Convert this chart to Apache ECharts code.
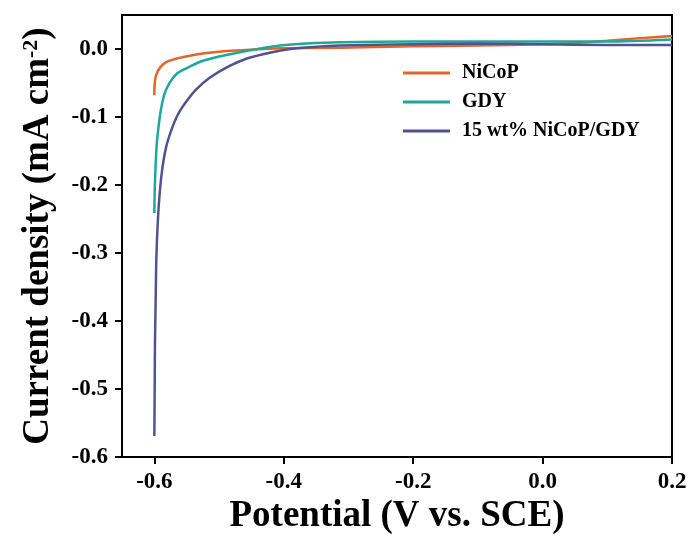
<!DOCTYPE html>
<html>
<head>
<meta charset="utf-8">
<script src="https://cdn.jsdelivr.net/npm/echarts@6/dist/echarts.min.js"></script>
<style>html,body{margin:0;padding:0;background:#fff;}#c{width:694px;height:540px;}</style>
</head>
<body>
<div id="c"></div>
<script>
// Series names
var seriesNames = ['NiCoP', 'GDY', '15 wt% NiCoP/GDY'];
// Tick labels
var xTicks = [-0.6, -0.4, -0.2, 0.0, 0.2];
var yTicks = [-0.6, -0.5, -0.4, -0.3, -0.2, -0.1, 0.0];
// NiCoP: potential (V) and current density (mA cm-2)
var nicopV = [-0.600, -0.5995, -0.5975, -0.591, -0.581, -0.565, -0.545, -0.519, -0.488, -0.452, -0.406, -0.313, -0.2, -0.1, 0.0, 0.05, 0.1, 0.15, 0.2];
var nicopJ = [-0.068, -0.052, -0.039, -0.027, -0.019, -0.014, -0.010, -0.006, -0.003, -0.001, 0.001, 0.002, 0.004, 0.005, 0.007, 0.009, 0.012, 0.016, 0.019];
// GDY
var gdyV = [-0.600, -0.5995, -0.598, -0.596, -0.593, -0.589, -0.584, -0.576, -0.565, -0.550, -0.527, -0.500, -0.470, -0.440, -0.406, -0.365, -0.313, -0.2, -0.1, 0.0, 0.1, 0.2];
var gdyJ = [-0.241, -0.209, -0.170, -0.136, -0.110, -0.085, -0.065, -0.049, -0.036, -0.028, -0.018, -0.011, -0.005, 0.000, 0.005, 0.008, 0.010, 0.011, 0.011, 0.011, 0.011, 0.014];
// 15 wt% NiCoP/GDY
var compV = [-0.600, -0.5995, -0.599, -0.598, -0.597, -0.595, -0.592, -0.588, -0.582, -0.574, -0.564, -0.552, -0.536, -0.514, -0.488, -0.457, -0.420, -0.390, -0.354, -0.313, -0.2, -0.1, 0.0, 0.1, 0.2];
var compJ = [-0.569, -0.500, -0.430, -0.370, -0.310, -0.260, -0.215, -0.178, -0.145, -0.120, -0.097, -0.079, -0.060, -0.042, -0.027, -0.014, -0.005, 0.000, 0.003, 0.005, 0.007, 0.008, 0.007, 0.006, 0.006];

var colors = ['#E2662A', '#1FA89A', '#4F5490'];
var FONT = '"Liberation Serif", "Times New Roman", serif';

function pairs(xs, ys) { return xs.map(function (x, i) { return [x, ys[i]]; }); }
var dataSets = [pairs(nicopV, nicopJ), pairs(gdyV, gdyJ), pairs(compV, compJ)];

var chart = echarts.init(document.getElementById('c'), null, { renderer: 'canvas' });
var option = {
  backgroundColor: '#ffffff',
  animation: false,
  grid: { left: 122, right: 22, top: 15, bottom: 79, show: true, borderColor: '#000', borderWidth: 2, containLabel: false },
  legend: {
    orient: 'vertical', left: 398, top: 57,
    itemWidth: 47, itemHeight: 3, itemGap: 7, icon: 'rect',
    data: seriesNames,
    textStyle: { fontFamily: FONT, fontWeight: 'bold', fontSize: 20, color: '#000', lineHeight: 22, padding: [0, 0, 0, 7] }
  },
  xAxis: {
    type: 'value', min: -0.65, max: 0.2,
    name: 'Potential (V vs. SCE)', nameLocation: 'middle', nameGap: 40,
    nameTextStyle: { fontFamily: FONT, fontWeight: 'bold', fontSize: 37, color: '#000' },
    axisLine: { show: true, onZero: false, lineStyle: { color: '#000', width: 2 } },
    axisTick: { show: true, inside: false, length: 7, lineStyle: { color: '#000', width: 2 }, customValues: xTicks },
    axisLabel: { customValues: xTicks, margin: 13, fontFamily: FONT, fontWeight: 'bold', fontSize: 23, color: '#000',
      formatter: function (v) { return (Math.abs(v) < 1e-9 ? 0 : v).toFixed(1); } },
    splitLine: { show: false }
  },
  yAxis: {
    type: 'value', min: -0.6, max: 0.05,
    name: 'Current density (mA cm{sup|-2})', nameLocation: 'middle', nameGap: 65, nameRotate: 90,
    nameTextStyle: { fontFamily: FONT, fontWeight: 'bold', fontSize: 37, color: '#000',
      rich: { sup: { fontFamily: FONT, fontWeight: 'bold', fontSize: 22, color: '#000', verticalAlign: 'top', padding: [0, 0, 14, 0] } } },
    axisLine: { show: true, onZero: false, lineStyle: { color: '#000', width: 2 } },
    axisTick: { show: true, inside: false, length: 7, lineStyle: { color: '#000', width: 2 }, customValues: yTicks },
    axisLabel: { customValues: yTicks, margin: 14, fontFamily: FONT, fontWeight: 'bold', fontSize: 23, color: '#000',
      formatter: function (v) { return (Math.abs(v) < 1e-9 ? 0 : v).toFixed(1); } },
    splitLine: { show: false }
  },
  series: seriesNames.map(function (n, i) {
    return {
      name: n, type: 'line', data: dataSets[i], showSymbol: false, symbol: 'none',
      smooth: 0.25, lineStyle: { color: colors[i], width: 2.5 }, itemStyle: { color: colors[i] }, z: 2 + i
    };
  })
};
chart.setOption(option);
</script>
</body>
</html>
